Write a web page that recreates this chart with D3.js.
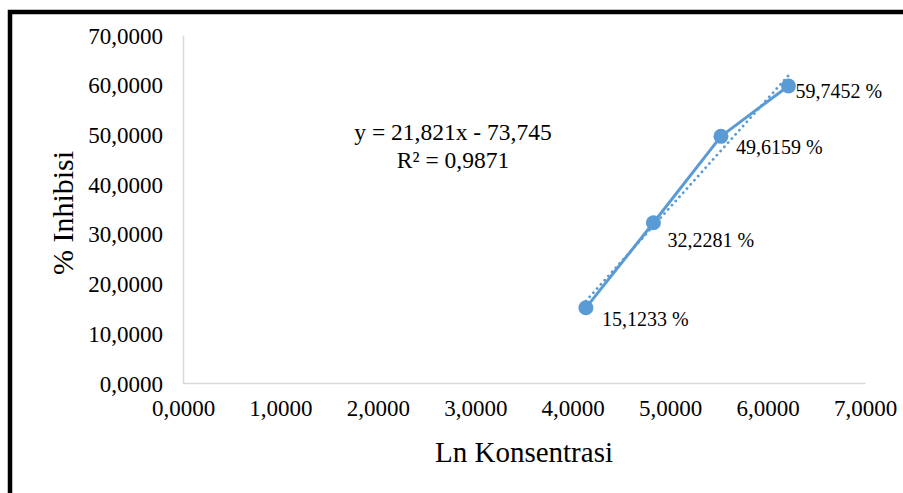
<!DOCTYPE html>
<html>
<head>
<meta charset="utf-8">
<script src="https://cdn.jsdelivr.net/npm/d3@7"></script>
<style>
  html, body { margin: 0; padding: 0; background: #fff; }
  svg { display: block; }
  text { font-family: "Liberation Serif", "Times New Roman", serif; fill: #000; }
</style>
</head>
<body>
<svg id="chart" width="903" height="493"></svg>
<script>
// ---- data ----
const lnKonsentrasi = [4.1352, 4.8283, 5.5215, 6.2146];
const inhibisi = [15.1233, 32.2281, 49.6159, 59.7452];
const pointLabels = ["15,1233 %", "32,2281 %", "49,6159 %", "59,7452 %"];
const xTicks = [0, 1, 2, 3, 4, 5, 6, 7];
const yTicks = [0, 10, 20, 30, 40, 50, 60, 70];
const trendSlope = 21.821;
const trendIntercept = -73.745;
const equationLines = ["y = 21,821x - 73,745", "R² = 0,9871"];
const xTitle = "Ln Konsentrasi";
const yTitle = "% Inhibisi";
// label offsets (layout, px)
const labelOffsets = [[16, 11], [14, 17], [15, 11], [7, 5]];

const svg = d3.select("#chart");
const blue = "#5b9bd5";

// frame
svg.append("rect").attr("x", 10).attr("y", 12).attr("width", 900).attr("height", 490)
  .attr("fill", "none").attr("stroke", "#000").attr("stroke-width", 4.5);

const x = d3.scaleLinear().domain([0, 7]).range([183, 865]);
const y = d3.scaleLinear().domain([0, 70]).range([383, 35]);
const fmt = v => d3.format(".4f")(v).replace(".", ",");

// axes
const xAxis = svg.append("g").attr("transform", `translate(0,${y(0)})`)
  .call(d3.axisBottom(x).tickValues(xTicks).tickFormat(fmt).tickSize(0).tickPadding(17));
const yAxis = svg.append("g").attr("transform", `translate(${x(0)},0)`)
  .call(d3.axisLeft(y).tickValues(yTicks).tickFormat(fmt).tickSize(0).tickPadding(20));
[xAxis, yAxis].forEach(g => {
  g.select(".domain").attr("stroke", "#d9d9d9").attr("stroke-width", 1.5);
  g.selectAll("text").attr("font-family", "Liberation Serif").attr("font-size", 23).attr("fill", "#000");
});
yAxis.selectAll("text").attr("dy", "0.35em");

// trendline
const xs = d3.extent(lnKonsentrasi);
svg.append("line")
  .attr("x1", x(xs[0])).attr("y1", y(trendSlope * xs[0] + trendIntercept))
  .attr("x2", x(xs[1])).attr("y2", y(trendSlope * xs[1] + trendIntercept))
  .attr("stroke", blue).attr("stroke-width", 2.75)
  .attr("stroke-dasharray", "0.1 5.5").attr("stroke-linecap", "round");

// series line
const pts = lnKonsentrasi.map((v, i) => [v, inhibisi[i]]);
svg.append("path").datum(pts)
  .attr("d", d3.line().x(d => x(d[0])).y(d => y(d[1])))
  .attr("fill", "none").attr("stroke", blue).attr("stroke-width", 3).attr("stroke-linejoin", "round");

svg.selectAll("circle.pt").data(pts).enter().append("circle")
  .attr("class", "pt")
  .attr("cx", d => x(d[0])).attr("cy", d => y(d[1])).attr("r", 7.5)
  .attr("fill", blue);

// data labels
svg.selectAll("text.lbl").data(pts).enter().append("text")
  .attr("class", "lbl")
  .attr("x", (d, i) => x(d[0]) + labelOffsets[i][0])
  .attr("y", (d, i) => y(d[1]) + labelOffsets[i][1])
  .attr("dy", "0.35em")
  .attr("font-size", 20)
  .text((d, i) => pointLabels[i]);

// equation
svg.selectAll("text.eq").data(equationLines).enter().append("text")
  .attr("class", "eq")
  .attr("x", 453).attr("y", (d, i) => 140 + i * 28)
  .attr("text-anchor", "middle").attr("font-size", 23.5)
  .text(d => d);

// axis titles
svg.append("text").attr("x", (x(0) + x(7)) / 2).attr("y", 462)
  .attr("text-anchor", "middle").attr("font-size", 29).text(xTitle);
svg.append("text").attr("transform", `translate(73,${(y(0) + y(70)) / 2 + 4}) rotate(-90)`)
  .attr("text-anchor", "middle").attr("font-size", 30).text(yTitle);
</script>
</body>
</html>
